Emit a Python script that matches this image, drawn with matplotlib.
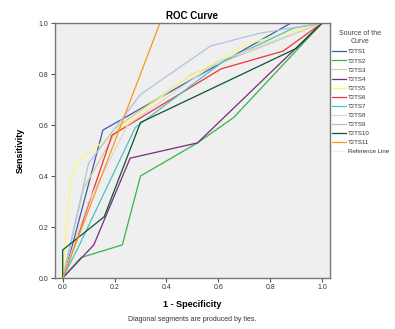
import matplotlib
matplotlib.use("Agg")
import matplotlib.pyplot as plt

plt.rcParams['font.family'] = ['Liberation Sans', 'DejaVu Sans']

# ROC points (1 - specificity, sensitivity)
names = ["T2TS1", "T2TS2", "T2TS3", "T2TS4", "T2TS5", "T2TS6",
         "T2TS7", "T2TS8", "T2TS9", "T2TS10", "T2TS11"]
colors = ["#3E58AC", "#2EB848", "#D3CE97", "#7C287D", "#FBF873", "#EF3338",
          "#48C2C5", "#D8D8D8", "#AFC3DE", "#0A562C", "#F8981D"]

fpr_1 = [0.0, 0.03, 0.155, 0.88, 1.0]
tpr_1 = [0.0, 0.10, 0.58, 1.0, 1.0]
fpr_2 = [0.0, 0.07, 0.23, 0.30, 0.52, 0.66, 1.0]
tpr_2 = [0.0, 0.08, 0.13, 0.40, 0.53, 0.63, 1.0]
fpr_3 = [0.0, 0.08, 0.22, 0.50, 1.0]
tpr_3 = [0.0, 0.35, 0.60, 0.80, 1.0]
fpr_4 = [0.0, 0.12, 0.26, 0.52, 1.0]
tpr_4 = [0.0, 0.13, 0.47, 0.53, 1.0]
fpr_5 = [0.0, 0.01, 0.03, 0.06, 0.47, 0.72, 1.0]
tpr_5 = [0.0, 0.15, 0.37, 0.46, 0.78, 0.92, 1.0]
fpr_6 = [0.0, 0.02, 0.19, 0.61, 0.85, 1.0]
tpr_6 = [0.0, 0.05, 0.56, 0.82, 0.89, 1.0]
fpr_7 = [0.0, 0.06, 0.28, 0.62, 0.89, 1.0]
tpr_7 = [0.0, 0.12, 0.59, 0.85, 0.98, 1.0]
fpr_8 = [0.0, 0.10, 0.25, 0.60, 1.0]
tpr_8 = [0.0, 0.30, 0.60, 0.85, 1.0]
fpr_9 = [0.0, 0.10, 0.30, 0.57, 0.76, 1.0]
tpr_9 = [0.0, 0.45, 0.72, 0.91, 0.96, 1.0]
fpr_10 = [0.0, 0.0, 0.16, 0.30, 0.90, 1.0]
tpr_10 = [0.0, 0.11, 0.24, 0.61, 0.90, 1.0]
fpr_11 = [0.0, 0.375, 1.0]
tpr_11 = [0.0, 1.0, 1.0]

fprs = [fpr_1, fpr_2, fpr_3, fpr_4, fpr_5, fpr_6, fpr_7, fpr_8, fpr_9, fpr_10, fpr_11]
tprs = [tpr_1, tpr_2, tpr_3, tpr_4, tpr_5, tpr_6, tpr_7, tpr_8, tpr_9, tpr_10, tpr_11]

fig = plt.figure(figsize=(3.95, 3.29), dpi=100)
ax = fig.add_axes([0.139, 0.155, 0.696, 0.775])
ax.set_facecolor("#efefef")

# reference line is practically invisible in the original
ref, = ax.plot([0, 1], [0, 1], color="#efefef", lw=0.9, label="Reference Line", zorder=1)
lines = []
for name, c, x, y in zip(names, colors, fprs, tprs):
    ln, = ax.plot(x, y, color=c, lw=0.9, label=name, zorder=2)
    lines.append(ln)
lines.append(ref)

ax.set_xlim(-0.03, 1.03)
ax.set_ylim(0, 1.0)
ticks = [0.0, 0.2, 0.4, 0.6, 0.8, 1.0]
ax.set_xticks(ticks)
ax.set_yticks(ticks)
ax.set_xticklabels(["0.0", "0.2", "0.4", "0.6", "0.8", "1.0"])
ax.set_yticklabels(["0.0", "0.2", "0.4", "0.6", "0.8", "1.0"])
ax.tick_params(labelsize=5, length=3, width=0.8, color="#555555", labelcolor="#333333", pad=1.5)
for s in ax.spines.values():
    s.set_color("#777777")
    s.set_linewidth(1.0)

ax.set_title("ROC Curve", fontsize=7, fontweight="bold", pad=3)
ax.set_xlabel("1 - Specificity", fontsize=6.5, fontweight="bold", labelpad=6)
ax.set_ylabel("Sensitivity", fontsize=6.5, fontweight="bold", labelpad=10)

fig.text(0.487, 0.018, "Diagonal segments are produced by ties.", fontsize=5,
         ha="center", va="bottom", color="#333333")

leg = fig.legend(handles=lines, loc="upper left", bbox_to_anchor=(0.835, 0.915),
                 title="Source of the\nCurve", fontsize=4.4, title_fontsize=5,
                 frameon=False, handlelength=2.2, handletextpad=0.3,
                 labelspacing=0.62, borderaxespad=0)
leg.get_title().set_color("#444444")
leg.get_title().set_multialignment("center")
for t in leg.get_texts():
    t.set_color("#333333")

fig.savefig("out.png", dpi=100)
